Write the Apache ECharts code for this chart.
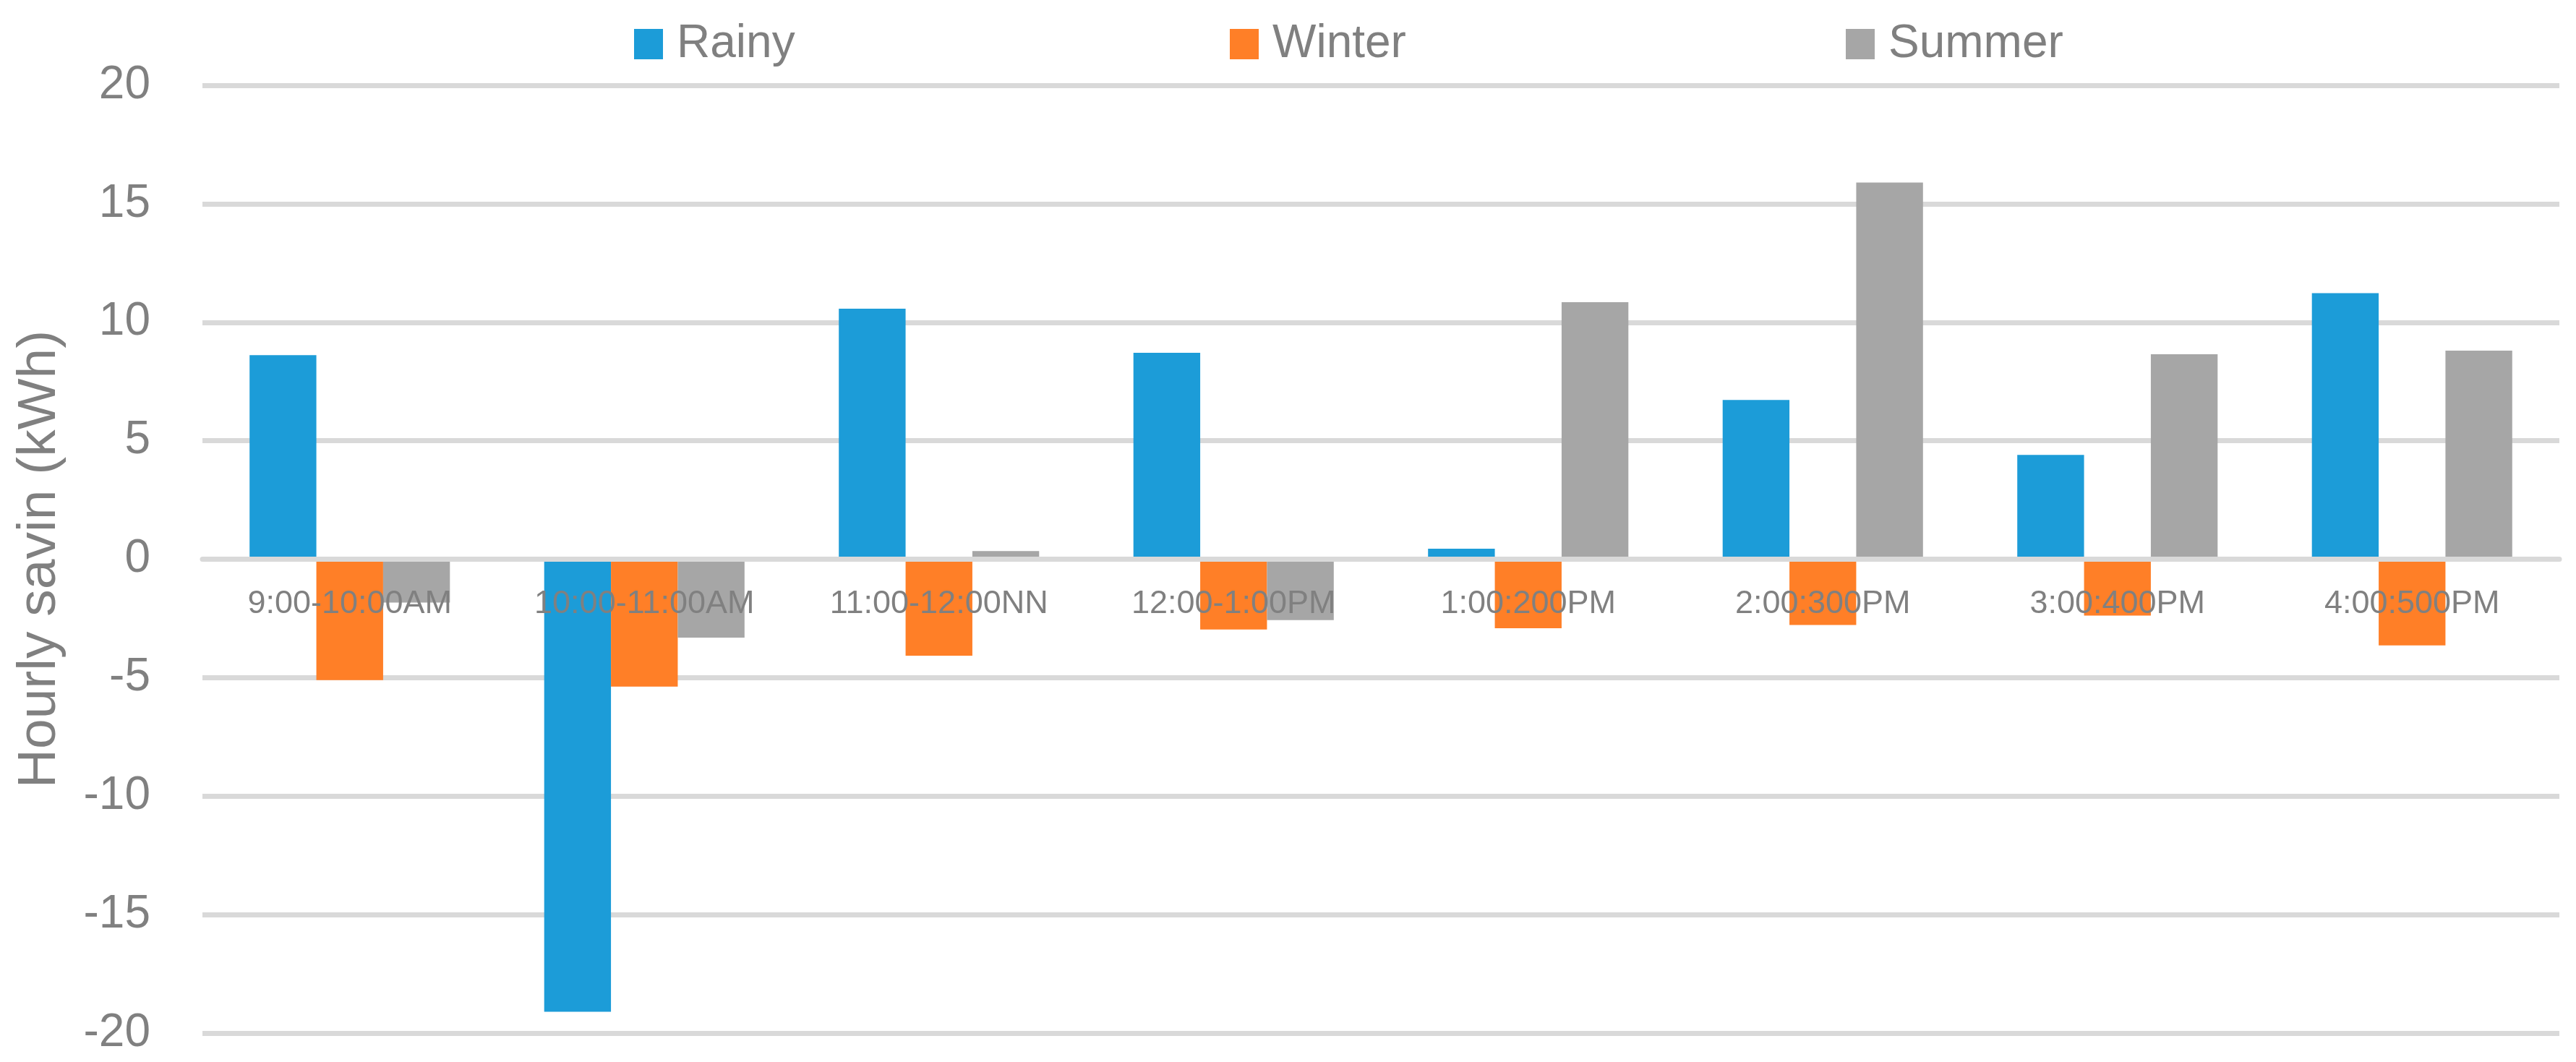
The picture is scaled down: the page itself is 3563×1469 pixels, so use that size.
<!DOCTYPE html>
<html>
<head>
<meta charset="utf-8">
<script src="https://cdn.jsdelivr.net/npm/echarts@6/dist/echarts.min.js"></script>
<style>html,body{margin:0;padding:0;background:#fff;}#c{width:3563px;height:1469px;}</style>
</head>
<body>
<div id="c"></div>
<script>
const categories = ['9:00-10:00AM','10:00-11:00AM','11:00-12:00NN','12:00-1:00PM','1:00:200PM','2:00:300PM','3:00:400PM','4:00:500PM'];
const rainy  = [8.61, -19.1, 10.57, 8.71, 0.44, 6.72, 4.40, 11.23];
const winter = [-5.10, -5.38, -4.07, -2.97, -2.91, -2.78, -2.38, -3.64];
const summer = [-1.83, -3.31, 0.34, -2.57, 10.85, 15.9, 8.65, 8.80];
const yTicks = {min: -20, max: 20, interval: 5};

const FONT = '"Liberation Sans", Arial, sans-serif';
const TXT = '#808080';
const GRID_TOP = 118, GRID_BOTTOM_Y = 1429, H = 1469;
const zeroOffset = (GRID_BOTTOM_Y - GRID_TOP) * (0 - yTicks.min) / (yTicks.max - yTicks.min);
const chart = echarts.init(document.getElementById('c'));
function leg(name, left) {
  return {
    data: [name], left: left, top: 24, itemWidth: 40, itemHeight: 42, icon: 'rect',
    textStyle: {fontFamily: FONT, fontSize: 64, color: TXT, padding: [0,0,0,14]}
  };
}
chart.setOption({
  animation: false,
  color: ['#1C9CD8', '#FF7F27', '#A6A6A6'],
  legend: [leg('Rainy', 872), leg('Winter', 1696), leg('Summer', 2548)],
  grid: {left: 280, right: 23, top: GRID_TOP, bottom: H - GRID_BOTTOM_Y, containLabel: false, outerBoundsMode: 'none'},
  xAxis: [{
    type: 'category', data: categories, z: 10,
    axisLine: {show: true, onZero: true, lineStyle: {color: '#D9D9D9', width: 7}},
    axisTick: {show: false},
    axisLabel: {show: false},
    splitLine: {show: false}
  }, {
    type: 'category', data: categories, z: 11, position: 'bottom', offset: -zeroOffset,
    axisLine: {show: false, onZero: false},
    axisTick: {show: false},
    axisLabel: {fontFamily: FONT, fontSize: 45, color: TXT, margin: 40, interval: 0},
    splitLine: {show: false}
  }],
  yAxis: {
    type: 'value', min: yTicks.min, max: yTicks.max, interval: yTicks.interval,
    name: 'Hourly savin (kWh)', nameLocation: 'middle', nameGap: 187,
    nameTextStyle: {fontFamily: FONT, fontSize: 75, color: TXT},
    axisLine: {show: false}, axisTick: {show: false},
    axisLabel: {fontFamily: FONT, fontSize: 64, color: TXT, margin: 72},
    splitLine: {lineStyle: {color: '#D9D9D9', width: 7}}
  },
  series: [
    {name: 'Rainy', type: 'bar', data: rainy, barGap: '0%', barCategoryGap: '32%'},
    {name: 'Winter', type: 'bar', data: winter, barGap: '0%', barCategoryGap: '32%'},
    {name: 'Summer', type: 'bar', data: summer, barGap: '0%', barCategoryGap: '32%'}
  ]
});
</script>
</body>
</html>
